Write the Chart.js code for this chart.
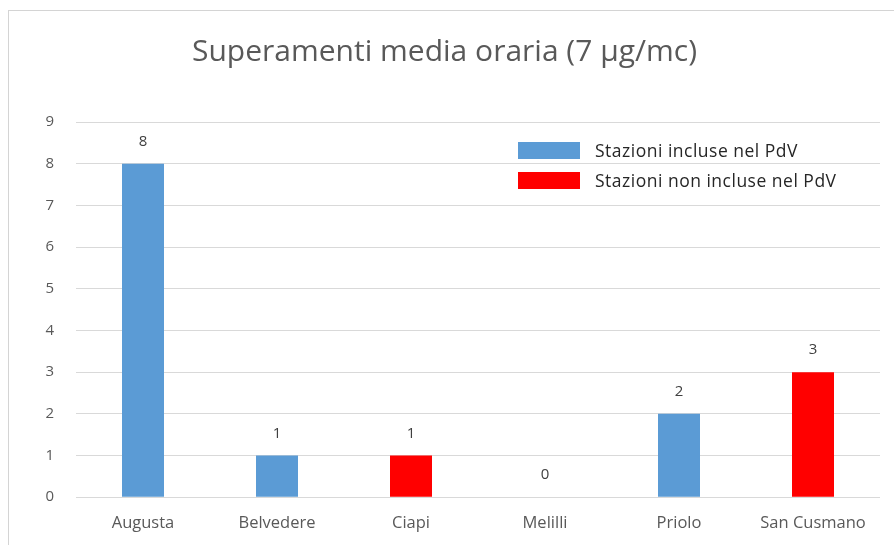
<!DOCTYPE html>
<html>
<head>
<meta charset="utf-8">
<script src="https://cdn.jsdelivr.net/npm/chart.js@4/dist/chart.umd.min.js"></script>
<style>
    html, body { margin: 0; padding: 0; background: #fff; overflow: hidden; }
    .frame {
        position: absolute; left: 8px; top: 10px;
        width: 900px; height: 560px;
        border: 1px solid #d4d4d4;
    }
    #chart { position: absolute; left: 0; top: 0; }
    .legend {
        position: absolute; left: 509px; top: 124px;
        font-family: 'Open Sans', sans-serif;
        font-size: 17.5px; letter-spacing: 0.5px; color: #262626;
    }
    .legend-item { display: flex; align-items: center; height: 30px; }
    .swatch { width: 62px; height: 17px; margin-right: 15px; }
</style>
</head>
<body>
<div class="frame">
    <canvas id="chart" width="885" height="530"></canvas>
    <div class="legend" id="legend"></div>
</div>
<script>
const titleText = "Superamenti media oraria (7 µg/mc)";
const stations = ["Augusta", "Belvedere", "Ciapi", "Melilli", "Priolo", "San Cusmano"];
const exceedances = [8, 1, 1, 0, 2, 3];
// true = stazione inclusa nel PdV
const included = [true, true, false, true, true, false];
const legendLabels = ["Stazioni incluse nel PdV", "Stazioni non incluse nel PdV"];
const yTicks = [0, 1, 2, 3, 4, 5, 6, 7, 8, 9];

const BLUE = "#5b9bd5";
const RED = "#ff0000";
const font = "'Open Sans', sans-serif";

// legend (HTML, drawn over the plot like in the Excel original)
const legend = document.getElementById("legend");
[BLUE, RED].forEach((color, i) => {
    const item = document.createElement("div");
    item.className = "legend-item";
    item.innerHTML = `<span class="swatch" style="background:${color}"></span><span>${legendLabels[i]}</span>`;
    legend.appendChild(item);
});

// value labels above each bar
const valueLabels = {
    id: "valueLabels",
    afterDatasetsDraw(chart) {
        const ctx = chart.ctx;
        const meta = chart.getDatasetMeta(0);
        ctx.save();
        ctx.font = "15px " + font;
        ctx.fillStyle = "#404040";
        ctx.textAlign = "center";
        ctx.textBaseline = "middle";
        meta.data.forEach((bar, i) => {
            ctx.fillText(exceedances[i], bar.x, bar.y - 22);
        });
        ctx.restore();
    }
};

new Chart(document.getElementById("chart"), {
    type: "bar",
    data: {
        labels: stations,
        datasets: [{
            data: exceedances,
            backgroundColor: included.map((inc) => inc ? BLUE : RED),
            borderWidth: 0,
            inflateAmount: 0,
            barThickness: 42
        }]
    },
    options: {
        responsive: false,
        animation: false,
        layout: { padding: { left: 0, right: 14, bottom: 0 } },
        plugins: {
            legend: { display: false },
            tooltip: { enabled: false },
            title: {
                display: true,
                text: titleText,
                color: "#595959",
                font: { family: font, size: 30, weight: "normal" },
                padding: { top: 23, bottom: 52 }
            }
        },
        scales: {
            x: {
                grid: { display: false },
                border: { display: false },
                ticks: { color: "#595959", font: { family: font, size: 16.5 }, padding: 8 }
            },
            y: {
                min: 0,
                max: 9,
                afterBuildTicks: (scale) => { scale.ticks = yTicks.map((v) => ({ value: v })); },
                afterFit: (scale) => { scale.width = 67; },
                grid: { color: "#d9d9d9", drawTicks: false },
                border: { display: false },
                ticks: { color: "#595959", font: { family: font, size: 15 }, padding: 22 }
            }
        }
    },
    plugins: [valueLabels]
});
</script>
</body>
</html>
